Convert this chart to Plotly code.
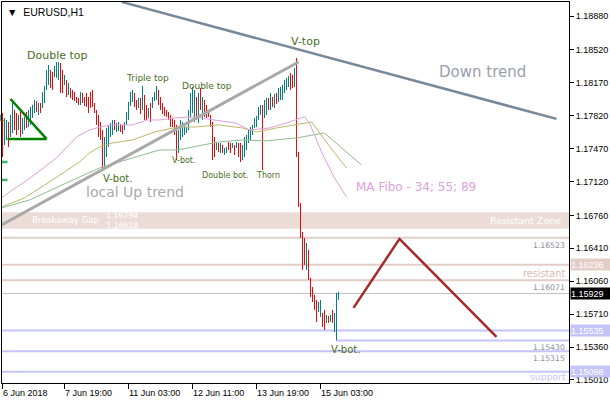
import plotly.graph_objects as go

# ---------------- data ----------------
bar_open = [1.17828,1.17562,1.17615,1.17732,1.17615,1.17722,1.17881,1.17796,1.17690,1.17796,
 1.17668,1.17711,1.17817,1.17732,1.17775,1.17838,1.17902,1.17966,1.17860,1.17945,
 1.17923,1.17987,1.18115,1.18200,1.18285,1.18253,1.18253,1.18253,1.18253,1.18349,
 1.18285,1.18168,1.18179,1.18062,1.18104,1.18083,1.18051,1.18009,1.17998,1.17955,
 1.18040,1.17998,1.18040,1.17998,1.18051,1.18072,1.17945,1.17870,1.17796,1.17722,
 1.17647,1.17318,1.17456,1.17562,1.17636,1.17668,1.17753,1.17668,1.17690,1.17722,
 1.17700,1.17690,1.17743,1.17828,1.17945,1.18030,1.18051,1.17966,1.17923,1.17987,
 1.17902,1.18030,1.17902,1.17807,1.17923,1.17913,1.17987,1.18030,1.18083,1.17987,
 1.17923,1.17881,1.17860,1.17838,1.17807,1.17775,1.17732,1.17668,1.17456,1.17615,
 1.17636,1.17647,1.17658,1.17690,1.17828,1.17902,1.17881,1.18009,1.17796,1.18072,
 1.17828,1.17966,1.17913,1.17860,1.17817,1.17732,1.17562,1.17466,1.17509,1.17445,
 1.17498,1.17424,1.17445,1.17530,1.17509,1.17488,1.17498,1.17488,1.17509,1.17498,
 1.17381,1.17434,1.17509,1.17562,1.17605,1.17647,1.17711,1.17732,1.17796,1.17860,
 1.17923,1.17838,1.17881,1.17987,1.17913,1.18009,1.17934,1.18040,1.17987,1.18040,
 1.18019,1.18094,1.18136,1.18157,1.18253,1.18200,1.18147,1.18306,1.17403,1.16871,
 1.16542,1.16499,1.16233,1.16371,1.16074,1.15968,1.15893,1.15829,1.15755,1.15713,
 1.15702,1.15734,1.15627,1.15681,1.15649,1.15734,1.15627,1.15564,1.15893]
bar_high = [1.17849,1.17796,1.17775,1.17753,1.17828,1.17955,1.17881,1.17849,1.17828,1.17860,
 1.17796,1.17807,1.17860,1.17881,1.17913,1.17934,1.17987,1.17977,1.17955,1.17955,
 1.18072,1.18136,1.18306,1.18359,1.18306,1.18285,1.18349,1.18391,1.18391,1.18381,
 1.18306,1.18253,1.18200,1.18168,1.18115,1.18094,1.18072,1.18019,1.18009,1.18072,
 1.18062,1.18019,1.18062,1.18019,1.18072,1.18094,1.17955,1.17881,1.17828,1.17753,
 1.17668,1.17594,1.17690,1.17722,1.17743,1.17775,1.17775,1.17743,1.17753,1.17732,
 1.17722,1.17753,1.17860,1.17966,1.18072,1.18094,1.18062,1.17987,1.18009,1.18009,
 1.18136,1.18040,1.17934,1.17902,1.17955,1.18019,1.18072,1.18136,1.18094,1.18019,
 1.17955,1.17913,1.17881,1.17860,1.17828,1.17796,1.17775,1.17722,1.17668,1.17775,
 1.17753,1.17722,1.17700,1.17881,1.18062,1.18125,1.18094,1.18019,1.18062,1.18115,
 1.18019,1.17987,1.17934,1.17881,1.17828,1.17753,1.17594,1.17541,1.17530,1.17530,
 1.17509,1.17477,1.17488,1.17541,1.17530,1.17530,1.17509,1.17541,1.17530,1.17530,
 1.17509,1.17594,1.17615,1.17668,1.17700,1.17722,1.17796,1.17817,1.17913,1.17934,
 1.17934,1.17987,1.18009,1.18009,1.18062,1.18019,1.18051,1.18062,1.18115,1.18125,
 1.18147,1.18200,1.18221,1.18242,1.18274,1.18253,1.18327,1.18434,1.17434,1.16892,
 1.16584,1.16520,1.16467,1.16393,1.16095,1.15999,1.15914,1.15861,1.15840,1.15861,
 1.15723,1.15755,1.15702,1.15691,1.15702,1.15755,1.15723,1.15936,1.15946]
bar_low = [1.17381,1.17509,1.17562,1.17488,1.17594,1.17636,1.17668,1.17615,1.17668,1.17594,
 1.17626,1.17668,1.17690,1.17700,1.17722,1.17796,1.17849,1.17860,1.17828,1.17849,
 1.17902,1.17955,1.18094,1.18147,1.18115,1.18094,1.18232,1.18221,1.18200,1.18062,
 1.18062,1.18147,1.18019,1.18040,1.18009,1.17987,1.17977,1.17955,1.17934,1.17934,
 1.17955,1.17923,1.17913,1.17849,1.17902,1.17913,1.17849,1.17722,1.17594,1.17562,
 1.17264,1.17286,1.17381,1.17488,1.17594,1.17615,1.17668,1.17647,1.17658,1.17647,
 1.17626,1.17668,1.17722,1.17775,1.17923,1.17966,1.17913,1.17881,1.17902,1.17838,
 1.17881,1.17775,1.17775,1.17796,1.17753,1.17902,1.17977,1.17987,1.17934,1.17881,
 1.17838,1.17817,1.17807,1.17775,1.17700,1.17700,1.17615,1.17349,1.17424,1.17562,
 1.17594,1.17615,1.17636,1.17668,1.17796,1.17849,1.17753,1.17775,1.17743,1.17881,
 1.17775,1.17807,1.17796,1.17807,1.17700,1.17349,1.17381,1.17456,1.17434,1.17424,
 1.17424,1.17403,1.17424,1.17456,1.17424,1.17477,1.17403,1.17477,1.17381,1.17328,
 1.17349,1.17381,1.17456,1.17530,1.17562,1.17615,1.17690,1.17700,1.17775,1.17828,
 1.17243,1.17796,1.17828,1.17881,1.17881,1.17913,1.17902,1.17945,1.17966,1.17987,
 1.17987,1.18062,1.18094,1.18125,1.18094,1.18115,1.18125,1.17381,1.16850,1.16520,
 1.16180,1.16233,1.16180,1.16074,1.15893,1.15840,1.15755,1.15627,1.15734,1.15681,
 1.15574,1.15542,1.15617,1.15617,1.15627,1.15617,1.15521,1.15430,1.15861]
bar_close = [1.17456,1.17753,1.17732,1.17562,1.17796,1.17902,1.17722,1.17668,1.17796,1.17647,
 1.17775,1.17785,1.17722,1.17860,1.17881,1.17913,1.17966,1.17881,1.17934,1.17870,
 1.18051,1.18115,1.18285,1.18327,1.18147,1.18136,1.18327,1.18359,1.18370,1.18094,
 1.18115,1.18232,1.18040,1.18136,1.18030,1.18009,1.17998,1.17966,1.17945,1.18051,
 1.17987,1.17945,1.17934,1.17881,1.17923,1.17945,1.17860,1.17753,1.17647,1.17594,
 1.17349,1.17562,1.17658,1.17700,1.17722,1.17753,1.17690,1.17722,1.17732,1.17668,
 1.17647,1.17732,1.17838,1.17945,1.18051,1.18072,1.17934,1.17902,1.17987,1.17860,
 1.18072,1.17828,1.17807,1.17881,1.17796,1.17998,1.18051,1.18115,1.17966,1.17913,
 1.17860,1.17838,1.17817,1.17796,1.17732,1.17722,1.17647,1.17456,1.17636,1.17732,
 1.17711,1.17690,1.17679,1.17849,1.18030,1.18094,1.18040,1.17828,1.18030,1.17934,
 1.17987,1.17860,1.17828,1.17817,1.17732,1.17456,1.17434,1.17520,1.17456,1.17509,
 1.17445,1.17466,1.17477,1.17477,1.17456,1.17520,1.17424,1.17530,1.17413,1.17381,
 1.17488,1.17573,1.17594,1.17647,1.17679,1.17700,1.17775,1.17796,1.17892,1.17923,
 1.17828,1.17955,1.17987,1.17913,1.18040,1.17945,1.18030,1.17977,1.18094,1.18104,
 1.18125,1.18179,1.18200,1.18221,1.18136,1.18147,1.18306,1.17403,1.16892,1.16563,
 1.16265,1.16308,1.16414,1.16106,1.15925,1.15883,1.15798,1.15670,1.15819,1.15840,
 1.15596,1.15606,1.15681,1.15638,1.15681,1.15649,1.15702,1.15904,1.15929]
bar_idx = list(range(len(bar_open)))

# Moving averages (MA Fibo 34; 55; 89), read at sample bars
ma34_idx = [-0.5, 5, 12.5, 21, 27, 37, 43.5, 48.5, 55, 65, 72.5, 78.5, 86.5, 95, 106.5, 116.5,
            123.5, 133.5, 142, 147, 151, 153.5, 159.5, 166, 172]
ma34_val = [1.16946, 1.17031, 1.17137, 1.17275, 1.17371, 1.17594, 1.17668, 1.17700, 1.17722,
            1.17722, 1.17775, 1.17775, 1.17796, 1.17807, 1.17775, 1.17743, 1.17668, 1.17690,
            1.17743, 1.17775, 1.17807, 1.17743, 1.17434, 1.17158, 1.16956]
ma55_idx = [-0.5, 11, 25, 38.5, 43.5, 48.5, 55, 65, 76, 87.5, 96.5, 108, 120, 127, 137, 147,
            154.5, 163, 172]
ma55_val = [1.16850, 1.16946, 1.17137, 1.17328, 1.17424, 1.17488, 1.17530, 1.17562, 1.17647,
            1.17700, 1.17700, 1.17722, 1.17690, 1.17647, 1.17690, 1.17722, 1.17753, 1.17509,
            1.17264]
ma89_idx = [-0.5, 13.5, 32, 48.5, 65, 78.5, 87.5, 108, 120, 131.5, 147, 161, 165, 172, 179.5]
ma89_val = [1.16839, 1.16924, 1.17105, 1.17264, 1.17371, 1.17456, 1.17456, 1.17541, 1.17562,
            1.17552, 1.17584, 1.17636, 1.17562, 1.17434, 1.17296]

# Drawn objects (bar index, price)
down_trend_idx = [59.5, 277]
down_trend_val = [1.19030, 1.17786]
up_trend_idx = [-0.5, 148]
up_trend_val = [1.16659, 1.18391]
triangle_idx = [4, 22, 2.5]
triangle_val = [1.17998, 1.17573, 1.17573]
stub_idx = [-0.5, 2.5]
stub_vals = [1.17328, 1.17137]
zigzag_idx = [175.5, 198.5, 247]
zigzag_val = [1.15777, 1.16510, 1.15469]

zone_low, zone_high = 1.16618, 1.16794
rose_levels = [1.16523, 1.16236, 1.16071]
blue_levels = [1.15535, 1.15315, 1.15098]
vbot_level = 1.15430
vbot_start_idx = 167
last_price = 1.15929

ytick_vals = [1.18880, 1.18520, 1.18170, 1.17820, 1.17470, 1.17120, 1.16760,
              1.16410, 1.16060, 1.15710, 1.15360, 1.15010]
ytick_text = ["%.5f" % v for v in ytick_vals]
xtick_idx = [0, 31, 63, 95, 127, 159]
xtick_text = ["6 Jun 2018", "7 Jun 19:00", "11 Jun 03:00", "12 Jun 11:00",
              "13 Jun 19:00", "15 Jun 03:00"]

pattern_text = ["Double top", "Triple top", "Double top", "V-bot.", "V-bot.", "Double bot.",
                "Thorn", "V-top", "V-bot."]
pattern_idx = [27.5, 72.5, 102, 57.5, 90.5, 111.5, 132.5, 151.5, 171.5]
pattern_val = [1.18455, 1.18221, 1.18136, 1.17150, 1.17339, 1.17179, 1.17179, 1.18604, 1.15330]
pattern_size = [11, 9, 9, 10, 8, 8, 8, 11, 10]

# ---------------- figure ----------------
TEAL = "#008080"
RED = "#FF0000"
ROSE = "#E2CDC7"
ZONE = "#EBDCD8"
LAV = "#C4C4F8"
LBL = "#4A6E1E"
FONT = "Liberation Sans"
DJ = "DejaVu Sans"

fig = go.Figure()

shapes = []
shapes.append(dict(type="rect", xref="paper", yref="y", x0=0, x1=1, y0=zone_low, y1=zone_high,
                   fillcolor=ZONE, line_width=0, layer="below"))
for lv in rose_levels:
    shapes.append(dict(type="line", xref="paper", yref="y", x0=0, x1=1, y0=lv, y1=lv,
                       line=dict(color=ROSE, width=2), layer="below"))
shapes.append(dict(type="line", xref="paper", yref="y", x0=0, x1=1, y0=last_price, y1=last_price,
                   line=dict(color="#C0C0C0", width=1), layer="below"))
for lv in blue_levels:
    shapes.append(dict(type="line", xref="paper", yref="y", x0=0, x1=1, y0=lv, y1=lv,
                       line=dict(color=LAV, width=2), layer="below"))
shapes.append(dict(type="line", xref="x", yref="y", x0=vbot_start_idx, x1=290, y0=vbot_level,
                   y1=vbot_level, line=dict(color=LAV, width=2), layer="below"))

# moving averages
for xs, ys, col in [(ma89_idx, ma89_val, "#8FBC8F"), (ma55_idx, ma55_val, "#BDB76B"),
                    (ma34_idx, ma34_val, "#DDA0DD")]:
    fig.add_trace(go.Scatter(x=xs, y=ys, mode="lines", line=dict(color=col, width=1),
                             hoverinfo="skip"))

fig.add_trace(go.Ohlc(x=bar_idx, open=bar_open, high=bar_high, low=bar_low, close=bar_close,
                      increasing=dict(line=dict(color=TEAL, width=1)),
                      decreasing=dict(line=dict(color=RED, width=1)),
                      tickwidth=0.25, hoverinfo="skip"))

fig.add_trace(go.Scatter(x=up_trend_idx, y=up_trend_val, mode="lines",
                         line=dict(color="#A9A9A9", width=3), hoverinfo="skip"))
fig.add_trace(go.Scatter(x=down_trend_idx, y=down_trend_val, mode="lines",
                         line=dict(color="#778899", width=2.5), hoverinfo="skip"))
fig.add_trace(go.Scatter(x=triangle_idx, y=triangle_val, mode="lines",
                         line=dict(color="#008000", width=2.5), hoverinfo="skip"))
for v in stub_vals:
    fig.add_trace(go.Scatter(x=stub_idx, y=[v, v], mode="lines",
                             line=dict(color="#3CB371", width=2.5), hoverinfo="skip"))
fig.add_trace(go.Scatter(x=zigzag_idx, y=zigzag_val, mode="lines",
                         line=dict(color="#A52A2A", width=2.5), hoverinfo="skip"))

ann = []
for t, xi, yv, s in zip(pattern_text, pattern_idx, pattern_val, pattern_size):
    ann.append(dict(x=xi, y=yv, xref="x", yref="y", text=t, showarrow=False,
                    font=dict(family=DJ, size=s, color=LBL)))
ann.append(dict(x=2, y=1.17796, xref="x", yref="y", text="t.", showarrow=False, xanchor="right",
                font=dict(family=DJ, size=9, color=LBL)))
ann.append(dict(x=66, y=1.17010, xref="x", yref="y", text="local Up trend", showarrow=False,
                font=dict(family=DJ, size=14, color="#A9A9A9")))
ann.append(dict(x=240, y=1.18285, xref="x", yref="y", text="Down trend", showarrow=False,
                font=dict(family=DJ, size=15, color="#98A0AC")))
ann.append(dict(x=206.5, y=1.17063, xref="x", yref="y", text="MA Fibo - 34; 55; 89",
                showarrow=False, font=dict(family=DJ, size=12, color="#DDA0DD")))
ann.append(dict(x=31.5, y=1.16706, xref="x", yref="y", text="Breakaway Gap", showarrow=False,
                font=dict(family=DJ, size=8.5, color="white")))
ann.append(dict(x=50.5, y=(zone_low + zone_high) / 2, xref="x", yref="y",
                text="%.5f<br>%.5f" % (zone_high, zone_low), showarrow=False,
                xanchor="left", align="left", font=dict(family=DJ, size=7.8, color="white")))
ann.append(dict(x=1, y=(zone_low + zone_high) / 2, xref="paper", yref="y", text="Resistant Zone",
                showarrow=False, xanchor="right", xshift=-6,
                font=dict(family=DJ, size=9.5, color="white")))
for lv in [rose_levels[0], rose_levels[2], vbot_level, blue_levels[1]]:
    ann.append(dict(x=1, y=lv, xref="paper", yref="y", text="%.5f" % lv, showarrow=False,
                    xanchor="right", yanchor="top", xshift=-2, yshift=-1,
                    font=dict(family=DJ, size=7.7, color="#8A8F9E")))
ann.append(dict(x=1, y=rose_levels[1], xref="paper", yref="y", text="resistant", showarrow=False,
                xanchor="right", yanchor="top", xshift=-2, yshift=-1,
                font=dict(family=DJ, size=9.7, color="#D9BAB2")))
ann.append(dict(x=1, y=blue_levels[2], xref="paper", yref="y", text="support", showarrow=False,
                xanchor="right", yanchor="top", xshift=-1, yshift=3,
                font=dict(family=DJ, size=9.3, color="#C4C4F8")))
# price boxes on the axis
for lv, bg in [(rose_levels[1], "#E2CDC7"), (last_price, "#000000"),
               (blue_levels[0], "#C4C4F8"), (blue_levels[2], "#C4C4F8")]:
    ann.append(dict(x=1, y=lv, xref="paper", yref="y", text="%.5f" % lv, showarrow=False,
                    xanchor="left", xshift=1, bgcolor=bg, width=39, height=11, borderpad=0,
                    align="left", font=dict(family=FONT, size=9, color="white")))
# x labels
for xi, t in zip(xtick_idx, xtick_text):
    ann.append(dict(x=xi, y=0, xref="x", yref="paper", text=t, showarrow=False,
                    xanchor="left", yanchor="top", yshift=-3, xshift=-1.5,
                    font=dict(family=FONT, size=9, color="black")))
# title
ann.append(dict(x=0, y=1, xref="paper", yref="paper", text="\u25BC  EURUSD,H1", showarrow=False,
                xanchor="left", yanchor="top", xshift=3, yshift=-2,
                font=dict(family=FONT, size=10.5, color="black")))

fig.update_layout(
    width=610, height=400,
    margin=dict(l=2, r=41, t=2, b=17),
    paper_bgcolor="white", plot_bgcolor="white",
    showlegend=False,
    shapes=shapes, annotations=ann,
    xaxis=dict(range=[-0.25, 283.25], showgrid=False, zeroline=False, showline=True,
               linecolor="black", linewidth=1, mirror=True, ticks="outside", ticklen=5,
               tickcolor="black", tickvals=xtick_idx, showticklabels=False,
               rangeslider=dict(visible=False), fixedrange=True),
    yaxis=dict(range=[1.14978, 1.19029], side="right", showgrid=False, zeroline=False,
               showline=True, linecolor="black", linewidth=1, mirror=True, ticks="outside",
               ticklen=4, tickcolor="black", tickvals=ytick_vals, ticktext=ytick_text,
               tickfont=dict(family=FONT, size=9, color="black"), fixedrange=True),
)

fig.write_html("out.html", config={"displayModeBar": False},
               post_script="document.body.style.margin='0';document.body.style.overflow='hidden';")
